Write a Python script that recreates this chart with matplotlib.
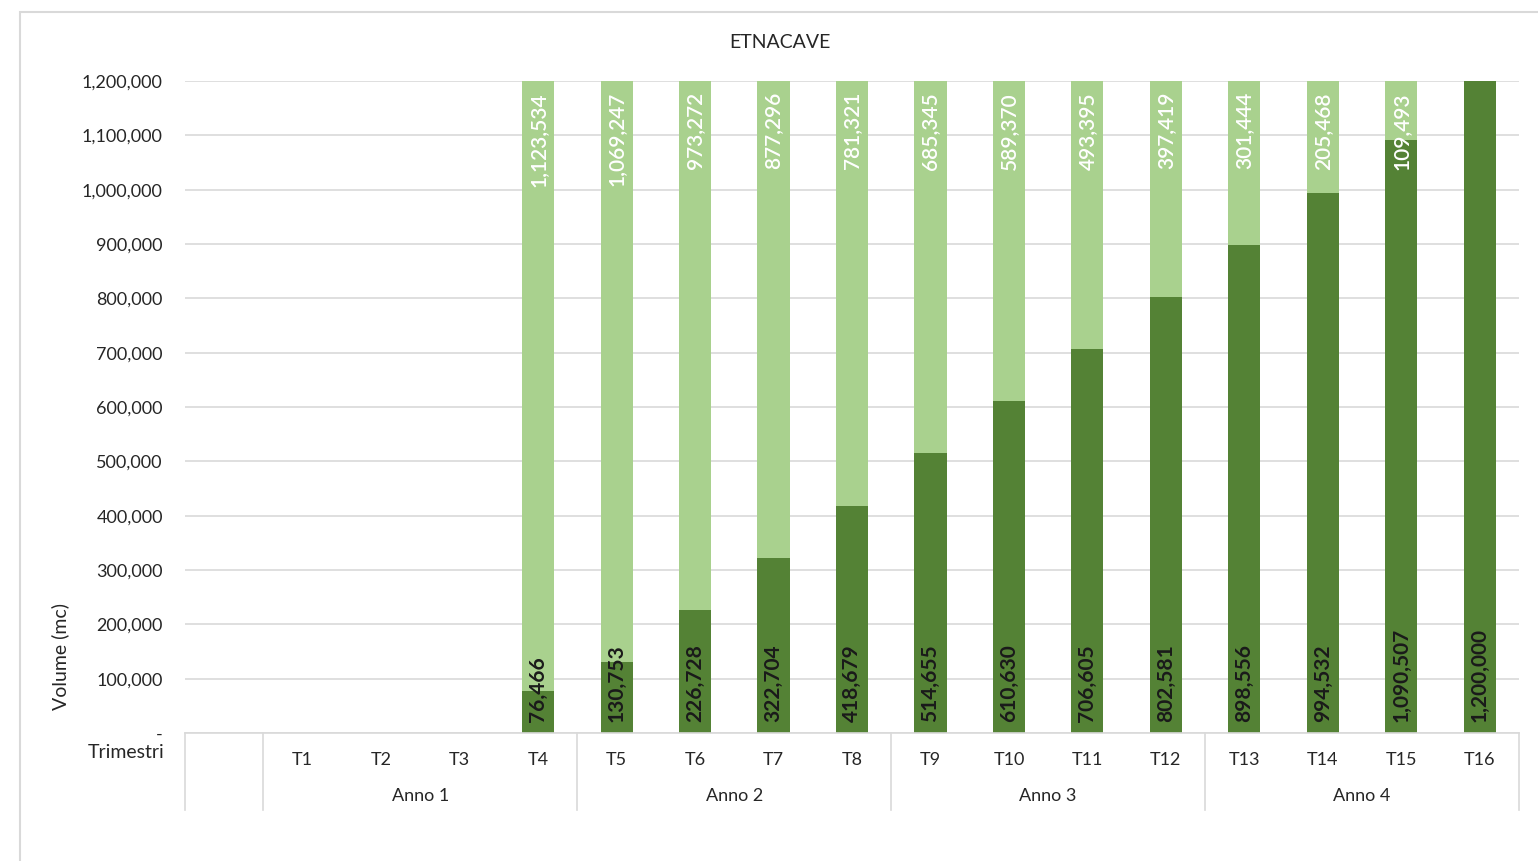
import matplotlib.pyplot as plt
from matplotlib.patches import Rectangle

plt.rcParams['font.family'] = ['Lato', 'DejaVu Sans']

categories = ['', 'T1', 'T2', 'T3', 'T4', 'T5', 'T6', 'T7', 'T8',
              'T9', 'T10', 'T11', 'T12', 'T13', 'T14', 'T15', 'T16']
years = ['Anno 1', 'Anno 2', 'Anno 3', 'Anno 4']
scavato = [0, 0, 0, 0, 76466, 130753, 226728, 322704, 418679, 514655,
           610630, 706605, 802581, 898556, 994532, 1090507, 1200000]
residuo = [0, 0, 0, 0, 1123534, 1069247, 973272, 877296, 781321, 685345,
           589370, 493395, 397419, 301444, 205468, 109493, 0]

DARK = '#548235'
LIGHT = '#a9d18e'
GRID = '#d9d9d9'
TXT = '#262626'
W, H = 1538, 861

fig = plt.figure(figsize=(W / 100, H / 100), dpi=100)
fig.patches.append(Rectangle((20 / W, -0.1), 1.2, 1 - 12 / H + 0.1, transform=fig.transFigure,
                             fill=False, edgecolor=GRID, linewidth=1.5))
ax = fig.add_axes([185 / W, (H - 733) / H, (1519 - 185) / W, (733 - 81) / H])

x = list(range(len(categories)))
ax.bar(x, scavato, width=0.41, color=DARK, zorder=2)
ax.bar(x, residuo, width=0.41, bottom=scavato, color=LIGHT, zorder=2)

for i in x:
    if scavato[i] > 0:
        ax.annotate(f'{scavato[i]:,}', (i, 0), xytext=(0, 8), textcoords='offset points',
                    rotation=90, ha='center', va='bottom', fontsize=15, fontweight='bold',
                    color='#1a1a1a', zorder=3)
    if residuo[i] > 0:
        ax.annotate(f'{residuo[i]:,}', (i, scavato[i] + residuo[i]), xytext=(0, -8),
                    textcoords='offset points', rotation=90, ha='center', va='top',
                    fontsize=15, fontweight='semibold', color='white', zorder=3)

ax.set_xlim(-0.5, len(categories) - 0.5)
ax.set_ylim(0, 1200000)
yt = list(range(0, 1200001, 100000))
ax.set_yticks(yt)
ax.set_yticklabels(['-'] + [f'{v:,}' for v in yt[1:]], fontsize=13, color=TXT)
ax.tick_params(axis='y', length=0, pad=16)
ax.yaxis.grid(True, color=GRID, linewidth=1.2, zorder=0)
ax.set_axisbelow(True)
for s in ['top', 'right', 'left']:
    ax.spines[s].set_visible(False)
ax.spines['bottom'].set_color(GRID)
ax.spines['bottom'].set_linewidth(1.2)

ax.set_xticks(x)
ax.set_xticklabels(categories, fontsize=13, color=TXT)
ax.tick_params(axis='x', length=0, pad=14)

# multi-level category axis
tr = ax.get_xaxis_transform()
ph = 733 - 81
ybot = -(810 - 733) / ph
for xs in [-0.5, 0.5, 4.5, 8.5, 12.5, 16.5]:
    ax.plot([xs, xs], [0, ybot], transform=tr, color=GRID, linewidth=1.2, clip_on=False)
for k, name in enumerate(years):
    ax.text(2.5 + 4 * k, -(796 - 733) / ph, name, transform=tr, ha='center',
            va='center', fontsize=13, color=TXT)
fig.text(165 / W, 1 - 753 / H, 'Trimestri', ha='right', va='center', fontsize=14, color=TXT)
fig.text(60 / W, 1 - 656 / H, 'Volume (mc)', rotation=90, ha='center', va='center',
         fontsize=14, color=TXT)
fig.text(780 / W, 1 - 43 / H, 'ETNACAVE', ha='center', va='center', fontsize=14, color=TXT)

fig.savefig('out.png', dpi=100)
